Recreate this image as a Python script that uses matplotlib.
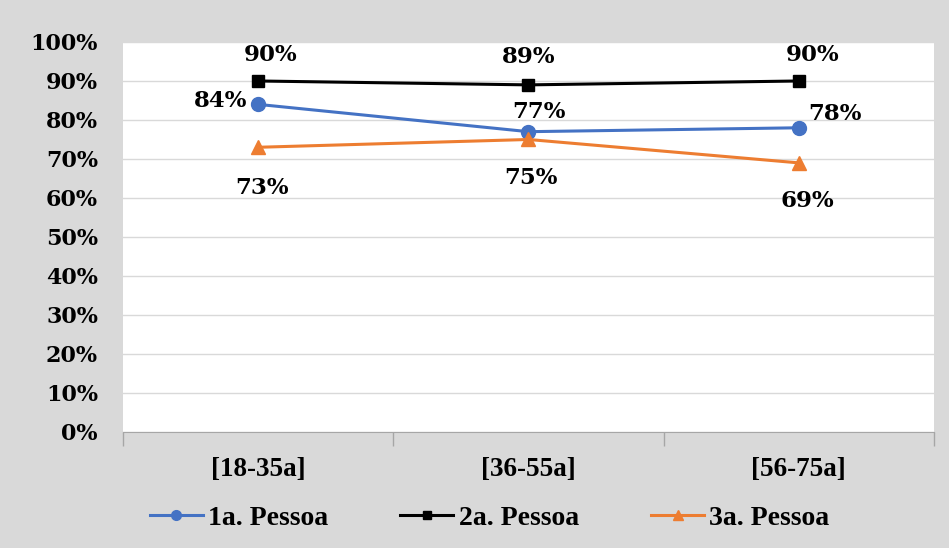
import matplotlib.pyplot as plt
from matplotlib.ticker import FixedLocator, FuncFormatter

categories = ['[18-35a]', '[36-55a]', '[56-75a]']
pessoa1 = [84, 77, 78]
pessoa2 = [90, 89, 90]
pessoa3 = [73, 75, 69]
series_names = ['1a. Pessoa', '2a. Pessoa', '3a. Pessoa']

bg = '#d9d9d9'
fig = plt.figure(figsize=(9.49, 5.48), dpi=100, facecolor=bg)
ax = fig.add_axes([0.1296, 0.2117, 0.8546, 0.7117])
ax.set_facecolor('white')

x = range(len(categories))
l1, = ax.plot(x, pessoa1, color='#4472c4', lw=2.2, marker='o', ms=10, label=series_names[0])
l2, = ax.plot(x, pessoa2, color='black', lw=2.2, marker='s', ms=8.5, label=series_names[1])
l3, = ax.plot(x, pessoa3, color='#ed7d31', lw=2.2, marker='^', ms=10, label=series_names[2])

# data labels, offsets in pixels from each point
label_font = dict(family='DejaVu Serif', weight='bold', size=16.5, color='black')
offsets1 = [(-38, 3), (10, 20), (36, 14)]
offsets2 = [(12, 26), (0, 28), (14, 26)]
offsets3 = [(4, -41), (2, -39), (8, -38)]
for vals, offs in [(pessoa1, offsets1), (pessoa2, offsets2), (pessoa3, offsets3)]:
    for i, (v, off) in enumerate(zip(vals, offs)):
        ax.annotate(f'{v}%', (i, v), xytext=off, textcoords='offset pixels',
                    ha='center', va='center', **label_font)

ax.set_xlim(-0.5, 2.5)
ax.set_ylim(0, 100)
ax.set_yticks(range(0, 101, 10))
ax.yaxis.set_major_formatter(FuncFormatter(lambda v, p: f'{v:.0f}%'))
ax.grid(axis='y', color='#d9d9d9', lw=1)
ax.set_axisbelow(True)

# category boundaries get tick marks, names sit in the middle
ax.xaxis.set_major_locator(FixedLocator([-0.5, 0.5, 1.5, 2.5]))
ax.xaxis.set_minor_locator(FixedLocator(list(x)))
ax.set_xticklabels([])
ax.set_xticklabels(categories, minor=True, family='Liberation Serif', weight='bold', size=19.5)
ax.tick_params(axis='x', which='major', length=10, color='#a6a6a6', width=1)
ax.tick_params(axis='x', which='minor', length=0, pad=18)
ax.tick_params(axis='y', length=0, pad=18)
for t in ax.get_yticklabels():
    t.set_fontfamily('DejaVu Serif')
    t.set_fontweight('bold')
    t.set_fontsize(16)

for s in ['left', 'right', 'top']:
    ax.spines[s].set_visible(False)
ax.spines['bottom'].set_color('#a6a6a6')

fig.legend(handles=[l1, l2, l3], loc='center', bbox_to_anchor=(0.516, 0.055), ncol=3,
           frameon=False, prop=dict(family='Liberation Serif', weight='bold', size=20),
           handlelength=1.9, columnspacing=2.6, handletextpad=0.2, markerscale=0.7)

fig.savefig('out.png', dpi=100, facecolor=bg)
